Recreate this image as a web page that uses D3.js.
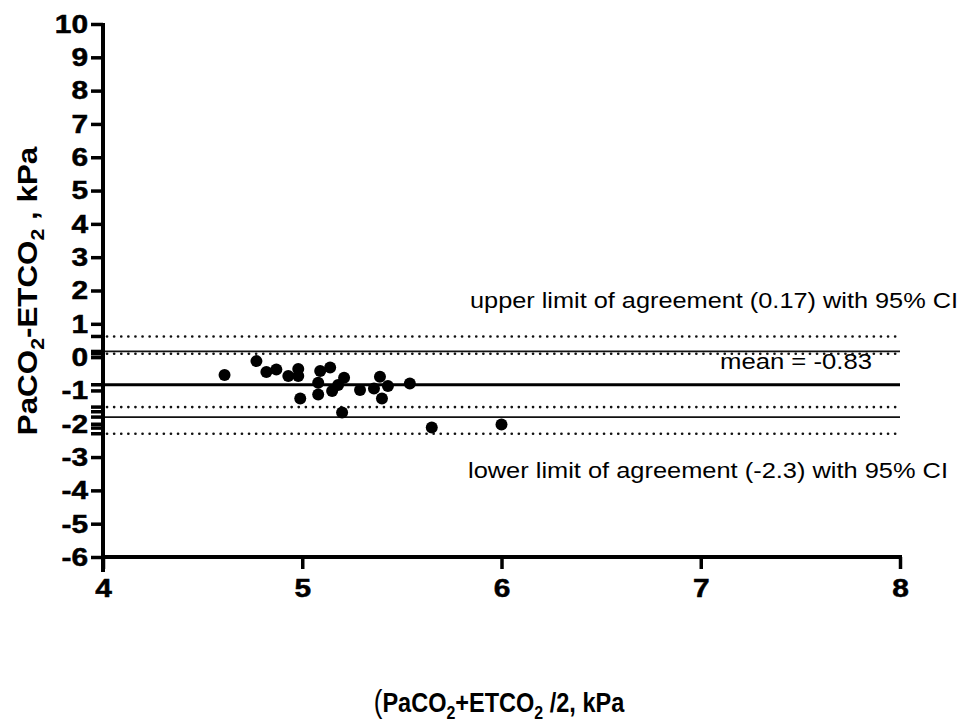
<!DOCTYPE html>
<html>
<head>
<meta charset="utf-8">
<script src="https://cdn.jsdelivr.net/npm/d3@7"></script>
<style>
  body { margin: 0; background: #fff; }
  svg { display: block; }
</style>
</head>
<body>
<svg id="chart" width="962" height="724"></svg>
<script>
// data
const meanX = [4.61, 4.77, 4.82, 4.87, 4.93, 4.98, 4.98, 4.99, 5.08, 5.08, 5.09, 5.14,
               5.15, 5.18, 5.21, 5.20, 5.29, 5.36, 5.39, 5.43, 5.40, 5.54, 5.65, 6.00];
const diffY = [-0.54, -0.12, -0.45, -0.37, -0.57, -0.36, -0.57, -1.24, -0.77, -1.12, -0.42, -0.31,
               -1.02, -0.84, -0.62, -1.66, -0.99, -0.94, -0.59, -0.87, -1.24, -0.79, -2.11, -2.02];

const solidLines = [0.17, -1.8];
const meanLine = -0.83;
const dottedLines = [0.62, 0.1, -1.5, -2.3];

const xTicks = [4, 5, 6, 7, 8];
const yTicks = d3.range(-6, 11);
const extraYTicks = [0.62, 0.17, 0.1, -0.83, -1.5, -1.64, -1.8, -2.13, -2.3];

const upperText = "upper limit of agreement (0.17) with 95% CI";
const lowerText = "lower limit of agreement (-2.3) with 95% CI";
const meanText = "mean = -0.83";

const svg = d3.select("#chart");
const mLeft = 103, mRight = 900, mTop = 24, mBottom = 557;

const x = d3.scaleLinear().domain([4, 8]).range([mLeft, mRight]);
const y = d3.scaleLinear().domain([-6, 10]).range([mBottom, mTop]);

const font = "Arial, 'Liberation Sans', sans-serif";
const fmt = d => String(d); // plain hyphen for negatives, as in the original
const stretch = 1.15; // tick labels in the original are a little wide

// reference lines
const g = svg.append("g");
g.selectAll(".dot-line").data(dottedLines).enter().append("line")
  .attr("x1", mLeft + 4).attr("x2", mRight - 2)
  .attr("y1", d => y(d)).attr("y2", d => y(d))
  .attr("stroke", "#111").attr("stroke-width", 2.6)
  .attr("stroke-linecap", "round")
  .attr("stroke-dasharray", "0.1,7");

g.selectAll(".solid-line").data(solidLines).enter().append("line")
  .attr("x1", mLeft).attr("x2", mRight)
  .attr("y1", d => y(d)).attr("y2", d => y(d))
  .attr("stroke", "#111").attr("stroke-width", 1.8);

g.append("line")
  .attr("x1", mLeft).attr("x2", mRight)
  .attr("y1", y(meanLine)).attr("y2", y(meanLine))
  .attr("stroke", "#000").attr("stroke-width", 3);

// annotations
svg.append("text").attr("x", 470).attr("y", 308)
  .attr("font-family", font).attr("font-size", 22)
  .attr("textLength", 488).attr("lengthAdjust", "spacingAndGlyphs")
  .text(upperText);
svg.append("text").attr("x", 468).attr("y", 478)
  .attr("font-family", font).attr("font-size", 22)
  .attr("textLength", 480).attr("lengthAdjust", "spacingAndGlyphs")
  .text(lowerText);
svg.append("text").attr("x", 720).attr("y", 369)
  .attr("font-family", font).attr("font-size", 22)
  .attr("textLength", 152).attr("lengthAdjust", "spacingAndGlyphs")
  .text(meanText);

// points
svg.selectAll(".pt").data(meanX).enter().append("circle")
  .attr("cx", d => x(d)).attr("cy", (d, i) => y(diffY[i]))
  .attr("r", 6).attr("fill", "#000");

// axes
const yAxis = svg.append("g").attr("transform", `translate(${mLeft},0)`)
  .call(d3.axisLeft(y).tickValues(yTicks).tickFormat(fmt).tickSize(12).tickSizeOuter(0))
  .attr("font-family", font).attr("font-size", 26).attr("font-weight", "bold");
yAxis.select(".domain").attr("stroke-width", 4).attr("d", `M0,${mTop - 1}V${mBottom + 15}`);
yAxis.selectAll(".tick line").attr("stroke-width", 3.5);
yAxis.selectAll(".tick text")
  .attr("x", -15 / stretch).attr("transform", `scale(${stretch},1)`)
  .attr("fill", "#000").attr("stroke", "#000").attr("stroke-width", 0.5);

svg.append("g").attr("transform", `translate(${mLeft},0)`)
  .selectAll("line").data(extraYTicks).enter().append("line")
  .attr("x1", -12).attr("x2", 0)
  .attr("y1", d => y(d)).attr("y2", d => y(d))
  .attr("stroke", "#000").attr("stroke-width", 3.5);

const xAxis = svg.append("g").attr("transform", `translate(0,${mBottom})`)
  .call(d3.axisBottom(x).tickValues(xTicks).tickFormat(fmt).tickSize(12).tickSizeOuter(0))
  .attr("font-family", font).attr("font-size", 26).attr("font-weight", "bold");
xAxis.select(".domain").attr("stroke-width", 4).attr("d", `M${mLeft},0H${mRight + 2}`);
xAxis.selectAll(".tick line").attr("stroke-width", 3.5);
xAxis.selectAll(".tick text")
  .attr("y", 22).attr("transform", `scale(${stretch},1)`)
  .attr("fill", "#000").attr("stroke", "#000").attr("stroke-width", 0.5);

// axis titles
const yt = svg.append("text")
  .attr("transform", "translate(37,291) rotate(-90) scale(1.12,1)")
  .attr("text-anchor", "middle")
  .attr("font-family", font)
  .attr("font-weight", "bold").attr("font-size", 28);
yt.append("tspan").text("PaCO");
yt.append("tspan").attr("font-size", 19).attr("dy", 7).text("2");
yt.append("tspan").attr("dy", -7).text("-ETCO");
yt.append("tspan").attr("font-size", 19).attr("dy", 7).text("2");
yt.append("tspan").attr("dy", -7).text(" , kPa");

const xt = svg.append("text")
  .attr("transform", "translate(499,712) scale(0.84,1)")
  .attr("text-anchor", "middle")
  .attr("font-family", font)
  .attr("font-weight", "bold").attr("font-size", 28);
xt.append("tspan").attr("font-weight", "normal").attr("font-size", 31).text("(");
xt.append("tspan").text("PaCO");
xt.append("tspan").attr("font-size", 19).attr("dy", 7).text("2");
xt.append("tspan").attr("dy", -7).text("+ETCO");
xt.append("tspan").attr("font-size", 19).attr("dy", 7).text("2");
xt.append("tspan").attr("dy", -7).text(" /2, kPa");
</script>
</body>
</html>
